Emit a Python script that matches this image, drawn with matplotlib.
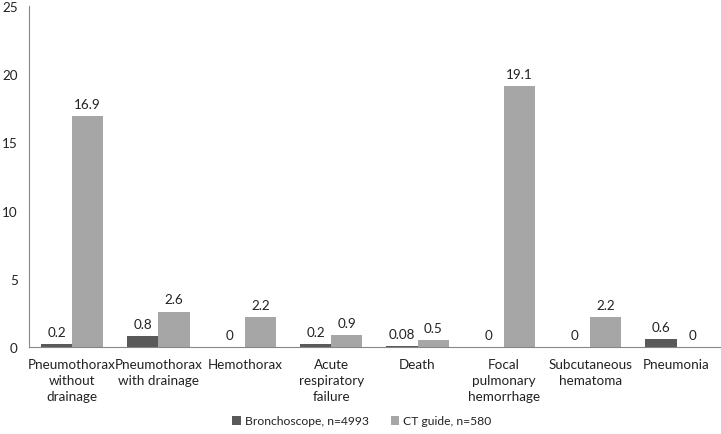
import numpy as np
import matplotlib
matplotlib.use("Agg")
import matplotlib.pyplot as plt

categories = ["Pneumothorax\nwithout\ndrainage", "Pneumothorax\nwith drainage", "Hemothorax",
              "Acute\nrespiratory\nfailure", "Death", "Focal\npulmonary\nhemorrhage",
              "Subcutaneous\nhematoma", "Pneumonia"]
broncho = [0.2, 0.8, 0, 0.2, 0.08, 0, 0, 0.6]
ct_guide = [16.9, 2.6, 2.2, 0.9, 0.5, 19.1, 2.2, 0]
broncho_lbl = ["0.2", "0.8", "0", "0.2", "0.08", "0", "0", "0.6"]
ct_lbl = ["16.9", "2.6", "2.2", "0.9", "0.5", "19.1", "2.2", "0"]

plt.rcParams["font.family"] = ["Lato", "DejaVu Sans"]
TXT = "#222222"
FS = 9.7

fig = plt.figure(figsize=(7.21, 4.35), dpi=100)
ax = fig.add_axes([0.0402, 0.2, 0.958, 0.784])

x = np.arange(len(categories))
w = 0.36
ax.bar(x - w / 2, broncho, w, color="#595959", label="Bronchoscope, n=4993")
ax.bar(x + w / 2, ct_guide, w, color="#A6A6A6", label="CT guide, n=580")

for i in range(len(x)):
    ax.text(x[i] - w / 2, broncho[i] + 0.45, broncho_lbl[i], ha="center", va="bottom", fontsize=FS, color=TXT)
    ax.text(x[i] + w / 2, ct_guide[i] + 0.45, ct_lbl[i], ha="center", va="bottom", fontsize=FS, color=TXT)

ax.set_xlim(-0.5, len(x) - 0.5)
ax.set_ylim(0, 25)
ax.set_yticks([0, 5, 10, 15, 20, 25])
ax.set_xticks(x)
ax.set_xticklabels(categories, fontsize=FS, color=TXT, linespacing=1.4)
ax.tick_params(axis="both", length=0, labelsize=FS, colors=TXT)
ax.tick_params(axis="x", pad=8)
ax.tick_params(axis="y", pad=8)
for s in ["top", "right"]:
    ax.spines[s].set_visible(False)
for s in ["left", "bottom"]:
    ax.spines[s].set_color("#868686")

fig.legend(*ax.get_legend_handles_labels(), loc="center", bbox_to_anchor=(0.502, 1 - 422 / 435), ncol=2,
           frameon=False, fontsize=8.7, handlelength=0.7, handleheight=0.7, columnspacing=1.8,
           handletextpad=0.35, labelcolor=TXT)

fig.savefig("out.png", dpi=100)
